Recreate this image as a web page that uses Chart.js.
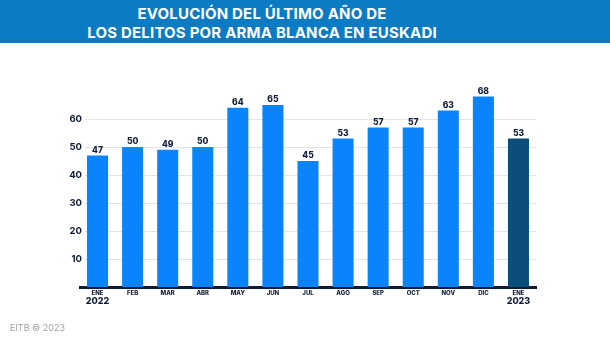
<!DOCTYPE html>
<html>
<head>
<meta charset="utf-8">
<script src="https://cdn.jsdelivr.net/npm/chart.js@4/dist/chart.umd.min.js"></script>
<style>
  html, body { margin: 0; padding: 0; background: #fff; }
  #page { position: relative; width: 610px; height: 342px; overflow: hidden; font-family: Inter, "Open Sans", sans-serif; }
  #header {
    position: absolute; left: 0; top: 0; width: 610px; height: 43px;
    background: #0b7bc3; color: #fff; text-align: center;
    font-weight: 700; font-size: 15px; line-height: 19px; padding: 4px 86px 0 0; box-sizing: border-box;
    letter-spacing: 0.2px;
  }
  #wrap { position: absolute; left: 0; top: 43px; width: 610px; height: 299px; }
  #footer { position: absolute; left: 10px; top: 322px; font-size: 9px; color: #9a9fa6; }
</style>
</head>
<body>
<div id="page">
  <div id="header">EVOLUCIÓN DEL ÚLTIMO AÑO DE<br>LOS DELITOS POR ARMA BLANCA EN EUSKADI</div>
  <div id="wrap"><canvas id="delitosChart"></canvas></div>
  <div id="footer">EITB © 2023</div>
</div>
<script>
// Monthly figures, Jan 2022 to Jan 2023
const months = ['ENE', 'FEB', 'MAR', 'ABR', 'MAY', 'JUN', 'JUL', 'AGO', 'SEP', 'OCT', 'NOV', 'DIC', 'ENE'];
const years = ['2022', '', '', '', '', '', '', '', '', '', '', '', '2023'];
const delitos = [47, 50, 49, 50, 64, 65, 45, 53, 57, 57, 63, 68, 53];
const yTicks = [10, 20, 30, 40, 50, 60];

const navy = '#101b36';
const barColors = delitos.map((v, i) => i === delitos.length - 1 ? '#0c4e7b' : '#0a84fb');

// horizontal guides (starting a little inside the plot) and their labels
const gridPlugin = {
    id: 'gridPlugin',
    beforeDatasetsDraw(chart) {
        const ctx = chart.ctx;
        const yScale = chart.scales.y;
        const left = chart.chartArea.left;
        ctx.save();
        ctx.strokeStyle = '#e2e4e8';
        ctx.lineWidth = 1;
        ctx.fillStyle = navy;
        ctx.font = '700 9.5px Inter, sans-serif';
        ctx.textAlign = 'right';
        ctx.textBaseline = 'middle';
        yTicks.forEach(v => {
            const y = Math.round(yScale.getPixelForValue(v)) + 0.5;
            ctx.beginPath();
            ctx.moveTo(left + 5, y);
            ctx.lineTo(chart.chartArea.right, y);
            ctx.stroke();
            ctx.fillText(v, left + 2, y);
        });
        ctx.restore();
    }
};

// value labels over each bar and the year under the first and last month
const labelsPlugin = {
    id: 'labelsPlugin',
    afterDatasetsDraw(chart) {
        const ctx = chart.ctx;
        const meta = chart.getDatasetMeta(0);
        ctx.save();
        ctx.fillStyle = navy;
        ctx.textAlign = 'center';
        ctx.textBaseline = 'bottom';
        ctx.font = '800 8.5px Inter, sans-serif';
        meta.data.forEach((bar, i) => {
            ctx.fillText(delitos[i], bar.x, bar.y - 1);
        });
        ctx.font = '800 9px Inter, sans-serif';
        ctx.textBaseline = 'top';
        const xScale = chart.scales.x;
        years.forEach((y, i) => {
            if (y) ctx.fillText(y, xScale.getPixelForValue(i), chart.chartArea.bottom + 10);
        });
        ctx.restore();
    }
};

const ctx = document.getElementById('delitosChart').getContext('2d');
new Chart(ctx, {
    type: 'bar',
    data: {
        labels: months,
        datasets: [{
            data: delitos,
            backgroundColor: barColors,
            barPercentage: 0.6,
            categoryPercentage: 1
        }]
    },
    options: {
        responsive: true,
        maintainAspectRatio: false,
        animation: false,
        layout: { padding: { left: 0, right: 74, top: 34, bottom: 0 } },
        plugins: { legend: { display: false }, tooltip: { enabled: false } },
        scales: {
            x: {
                grid: { display: false, drawTicks: false },
                border: { color: navy, width: 3 },
                ticks: {
                    color: navy,
                    font: { family: 'Inter', size: 6, weight: '800' },
                    padding: 3,
                    maxRotation: 0,
                    autoSkip: false
                },
                afterFit(scale) { scale.height = 55; }
            },
            y: {
                min: 0,
                max: 75,
                afterBuildTicks(scale) {
                    scale.ticks = yTicks.map(v => ({ value: v }));
                },
                grid: { display: false, drawTicks: false },
                border: { display: false },
                ticks: { display: false },
                afterFit(scale) { scale.width = 80; }
            }
        }
    },
    plugins: [gridPlugin, labelsPlugin]
});
</script>
</body>
</html>
